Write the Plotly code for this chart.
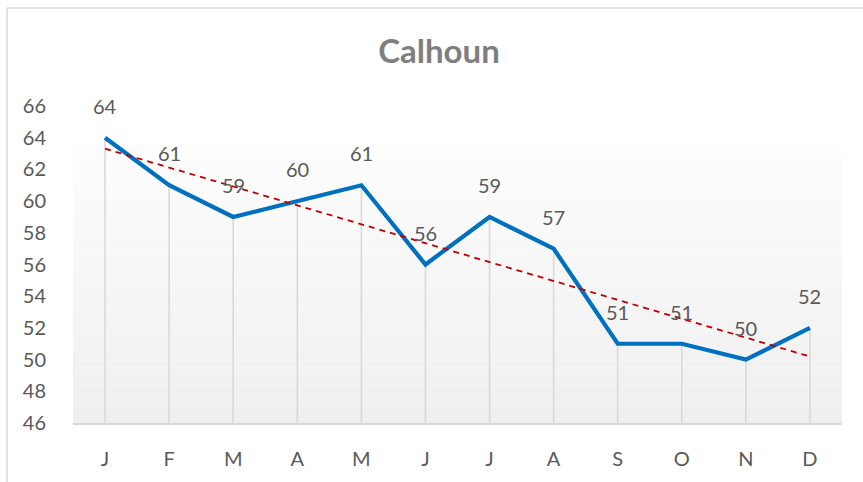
import plotly.graph_objects as go
import numpy as np

months = ["J", "F", "M", "A", "M", "J", "J", "A", "S", "O", "N", "D"]
values = [64, 61, 59, 60, 61, 56, 59, 57, 51, 51, 50, 52]
y_ticks = [46, 48, 50, 52, 54, 56, 58, 60, 62, 64, 66]
title_text = "Calhoun"

idx = list(range(len(months)))
ymin, ymax = 46, 66

# linear trendline
slope, intercept = np.polyfit(np.arange(1, len(values) + 1), values, 1)
trend = [intercept + slope * (i + 1) for i in idx]

fig = go.Figure()

# drop lines via error bars down to axis minimum
fig.add_trace(go.Scatter(
    x=idx, y=values, mode="markers",
    marker=dict(size=1, color="rgba(0,0,0,0)"),
    error_y=dict(type="data", symmetric=False,
                 array=[0] * len(values),
                 arrayminus=[v - ymin for v in values],
                 color="#d9d9d9", thickness=1.6, width=0),
    hoverinfo="skip", showlegend=False))

fig.add_trace(go.Scatter(
    x=idx, y=values, mode="lines",
    line=dict(color="#0070C0", width=4.2),
    showlegend=False))

fig.add_trace(go.Scatter(
    x=idx, y=trend, mode="lines",
    line=dict(color="#C00000", width=1.8, dash="6px,5px"),
    showlegend=False))

FONT = "Lato"
# data labels
for i, v in zip(idx, values):
    fig.add_annotation(x=i, y=v, text=str(v), showarrow=False,
                       yshift=32, font=dict(family=FONT, size=20, color="#595959"))

# gradient background strips
shapes = []
n = 40
top = 63.4
for k in range(n):
    y0 = ymin + (top - ymin) * k / n
    y1 = ymin + (top - ymin) * (k + 1) / n
    t = k / (n - 1)
    c = int(round(0xef + (0xfd - 0xef) * t))
    shapes.append(dict(type="rect", xref="paper", yref="y", x0=0, x1=1,
                       y0=y0, y1=y1, fillcolor=f"rgb({c},{c},{c})",
                       line=dict(width=0), layer="below"))

# chart border (top and left edges visible)
L, R, T, B = 73, 21, 106, 56
W, H = 863 - L - R, 482 - T - B
bx = (7 - L) / W
by = (H + T - 7) / H
shapes.append(dict(type="line", xref="paper", yref="paper", x0=bx, x1=1.2, y0=by, y1=by,
                   line=dict(color="#d9d9d9", width=1.5)))
shapes.append(dict(type="line", xref="paper", yref="paper", x0=bx, x1=bx, y0=by, y1=-0.3,
                   line=dict(color="#d9d9d9", width=1.5)))

fig.update_layout(
    width=863, height=482,
    margin=dict(l=L, r=R, t=T, b=B),
    paper_bgcolor="white", plot_bgcolor="white",
    shapes=shapes,
    title=dict(text=f"<b>{title_text}</b>", x=439 / 863, xanchor="center",
               y=1 - 51 / 482, yanchor="middle",
               font=dict(family=FONT, size=33, color="#7f7f7f")),
    xaxis=dict(tickmode="array", tickvals=idx, ticktext=months,
               range=[-0.5, len(months) - 0.5], showgrid=False, zeroline=False,
               showline=True, linecolor="#d9d9d9", linewidth=1.5,
               ticks="outside", ticklen=17, tickcolor="rgba(0,0,0,0)",
               tickfont=dict(family=FONT, size=20, color="#595959"), fixedrange=True),
    yaxis=dict(tickmode="array", tickvals=y_ticks, range=[ymin, ymax],
               showgrid=False, zeroline=False, showline=False,
               ticks="outside", ticklen=22, tickcolor="rgba(0,0,0,0)",
               tickfont=dict(family=FONT, size=20, color="#595959"), fixedrange=True),
    showlegend=False,
)

fig.write_html("out.html", config={"displayModeBar": False},
               post_script="document.body.style.margin='0';document.body.style.overflow='hidden';")
